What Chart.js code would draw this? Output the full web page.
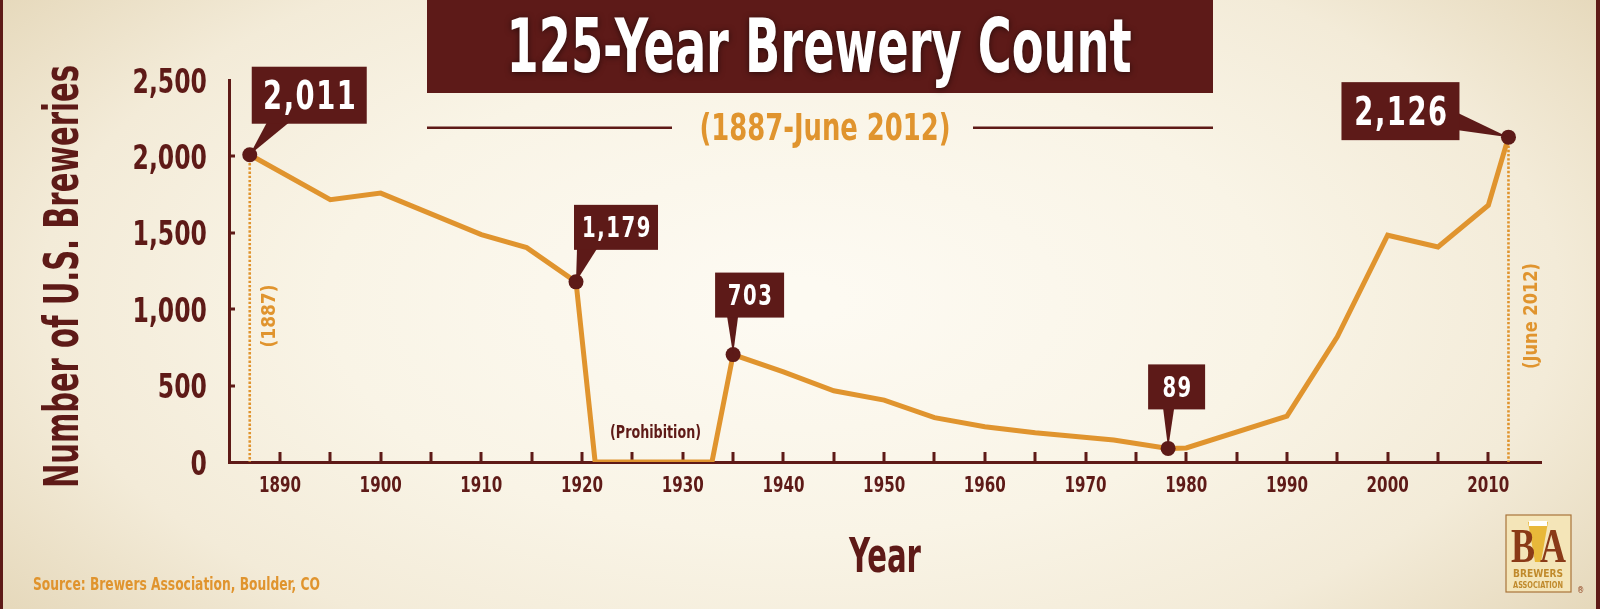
<!DOCTYPE html>
<html>
<head>
<meta charset="utf-8">
<title>125-Year Brewery Count</title>
<script src="https://cdn.jsdelivr.net/npm/chart.js@4.4.1/dist/chart.umd.min.js"></script>
<style>
  html, body { margin: 0; padding: 0; background: #F6EFDD; }
  canvas { display: block; }
</style>
</head>
<body>
<canvas id="chart" width="1600" height="609"></canvas>
<script>
const YEARS  = [1887, 1895, 1900, 1910, 1914.5, 1919.4, 1921.3, 1932.9, 1935, 1940, 1945, 1950, 1955, 1960, 1965, 1972.8, 1978.2, 1980, 1990, 1995, 2000, 2005, 2010, 2012];
const COUNTS = [2011, 1717, 1760, 1488, 1403, 1179, 0, 0, 703, 590, 466, 405, 290, 231, 192, 144, 89, 92, 300, 819, 1484, 1407, 1680, 2126];

// points that get a dark dot + callout
const HIGHLIGHT_IDX = [0, 5, 8, 16, 23];

const X_TICKS = [1890, 1900, 1910, 1920, 1930, 1940, 1950, 1960, 1970, 1980, 1990, 2000, 2010];
const X_MINOR = [1890, 1895, 1900, 1905, 1910, 1915, 1920, 1925, 1930, 1935, 1940, 1945, 1950, 1955, 1960, 1965, 1970, 1975, 1980, 1985, 1990, 1995, 2000, 2005, 2010];
const Y_TICKS = [0, 500, 1000, 1500, 2000, 2500];

const TITLE = "125-Year Brewery Count";
const SUBTITLE = "(1887-June 2012)";
const Y_TITLE = "Number of U.S. Breweries";
const X_TITLE = "Year";
const SOURCE = "Source: Brewers Association, Boulder, CO";

const MAROON = "#5E1A17";
const BOX = "#5D1A18";
const ORANGE = "#E0942E";
const FONT = '"Liberation Sans Narrow", "DejaVu Sans Condensed", "Arial Narrow", sans-serif';
const SQUEEZE = 0.78; // the original face is much narrower than anything installed

// callout box placement, relative to the point (px)
const CALLOUT_STYLE = {
  0:  { dx: 2,    dy: -88, w: 115, h: 57, size: 39, tip: "bottom", t0: 15, t1: 37 },
  5:  { dx: -2,   dy: -77, w: 84,  h: 45, size: 28, tip: "bottom", t0: 3,  t1: 23 },
  8:  { dx: -18,  dy: -82, w: 69,  h: 45, size: 28, tip: "bottom", t0: 12, t1: 23 },
  16: { dx: -20,  dy: -84, w: 57,  h: 45, size: 28, tip: "bottom", t0: 15, t1: 26 },
  23: { dx: -167, dy: -55, w: 118, h: 58, size: 39, tip: "right",  t0: 31, t1: 48 },
};

// draw text squeezed/stretched to a given width
function fitText(ctx, text, x, y, width, align) {
  const w = ctx.measureText(text).width;
  squeezeText(ctx, text, x, y, width / w, align);
}

function squeezeText(ctx, text, x, y, sx, align) {
  ctx.save();
  ctx.translate(x, y);
  ctx.scale(sx, 1);
  ctx.textAlign = align || "center";
  ctx.fillText(text, 0, 0);
  ctx.restore();
}

const decor = {
  id: "decor",
  beforeDraw(chart) {
    const { ctx, width, height } = chart;
    ctx.save();
    // cream paper with darker edges
    ctx.fillStyle = "#EADFC6";
    ctx.fillRect(0, 0, width, height);
    ctx.translate(800, 300);
    ctx.scale(1, 0.5);
    const g = ctx.createRadialGradient(0, 0, 40, 0, 0, 1000);
    g.addColorStop(0, "#FDFAF2");
    g.addColorStop(0.45, "#F9F4E6");
    g.addColorStop(0.75, "#F3EBD8");
    g.addColorStop(1, "#E6D9BC");
    ctx.fillStyle = g;
    ctx.fillRect(-800, -700, 1600, 1400);
    ctx.restore();

    ctx.save();
    // side frame
    ctx.fillStyle = MAROON;
    ctx.fillRect(0, 0, 3, height);
    ctx.fillRect(width - 4, 0, 4, height);

    // title banner
    ctx.fillStyle = BOX;
    ctx.fillRect(427, 0, 786, 93);
    ctx.shadowColor = "rgba(0,0,0,0.55)";
    ctx.shadowBlur = 6;
    ctx.shadowOffsetY = 1;
    ctx.fillStyle = "#FFFFFF";
    ctx.font = "bold 74px " + FONT;
    ctx.textBaseline = "alphabetic";
    fitText(ctx, TITLE, 819, 72, 625);
    ctx.shadowColor = "transparent";

    // subtitle with rules
    ctx.fillStyle = MAROON;
    ctx.fillRect(427, 126.5, 245, 2.5);
    ctx.fillRect(973, 126.5, 240, 2.5);
    ctx.fillStyle = ORANGE;
    ctx.font = "bold 38px " + FONT;
    fitText(ctx, SUBTITLE, 825, 140, 251);

    // y axis title
    ctx.fillStyle = MAROON;
    ctx.font = "bold 48px " + FONT;
    ctx.save();
    ctx.translate(78, 276.5);
    ctx.rotate(-Math.PI / 2);
    fitText(ctx, Y_TITLE, 0, 0, 423);
    ctx.restore();

    // x axis title
    ctx.font = "bold 48px " + FONT;
    fitText(ctx, X_TITLE, 885, 572, 72);

    // source
    ctx.fillStyle = ORANGE;
    ctx.font = "bold 18px " + FONT;
    fitText(ctx, SOURCE, 33, 590, 287, "left");

    drawLogo(ctx);
    ctx.restore();
  },
  beforeDatasetsDraw(chart) {
    const { ctx, scales: { x, y } } = chart;
    ctx.save();
    ctx.fillStyle = MAROON;
    const base = y.getPixelForValue(0);
    for (const v of X_MINOR) {
      const px = x.getPixelForValue(v);
      ctx.fillRect(Math.round(px) - 1.5, base - 10, 3, 10);
    }
    for (const v of Y_TICKS.slice(1, -1)) {
      const py = y.getPixelForValue(v);
      ctx.fillRect(x.left, Math.round(py) - 1.5, 6, 3);
    }

    // tick labels, taken from the scales' own ticks
    ctx.textBaseline = "alphabetic";
    ctx.font = "bold 21px " + FONT;
    for (const t of x.ticks) {
      squeezeText(ctx, t.label, x.getPixelForValue(t.value), base + 30, 0.8);
    }
    ctx.font = "bold 34px " + FONT;
    for (const t of y.ticks) {
      squeezeText(ctx, t.label, x.left - 22, y.getPixelForValue(t.value) + 12.5, 0.77, "right");
    }

    // dotted drop lines at the two ends
    ctx.strokeStyle = ORANGE;
    ctx.lineWidth = 2.6;
    ctx.setLineDash([2.4, 1.8]);
    for (const i of [0, YEARS.length - 1]) {
      const px = x.getPixelForValue(YEARS[i]);
      ctx.beginPath();
      ctx.moveTo(px, y.getPixelForValue(COUNTS[i]));
      ctx.lineTo(px, base);
      ctx.stroke();
    }
    ctx.setLineDash([]);

    // small rotated year notes
    ctx.fillStyle = ORANGE;
    ctx.font = "bold 19px " + FONT;
    ctx.textBaseline = "middle";
    const notes = [
      { i: 0, off: 20, text: "(1887)", w: 63 },
      { i: YEARS.length - 1, off: 24, text: "(June 2012)", w: 106 },
    ];
    for (const n of notes) {
      ctx.save();
      ctx.translate(x.getPixelForValue(YEARS[n.i]) + n.off, 316);
      ctx.rotate(-Math.PI / 2);
      fitText(ctx, n.text, 0, 0, n.w);
      ctx.restore();
    }

    ctx.fillStyle = MAROON;
    ctx.font = "bold 17px " + FONT;
    ctx.textBaseline = "alphabetic";
    fitText(ctx, "(Prohibition)", x.getPixelForValue(1927.3), 438, 91);
    ctx.restore();
  },
  afterDatasetsDraw(chart) {
    const { ctx, scales: { x, y } } = chart;
    ctx.save();
    for (const i of HIGHLIGHT_IDX) {
      const s = CALLOUT_STYLE[i];
      const px = x.getPixelForValue(YEARS[i]);
      const py = y.getPixelForValue(COUNTS[i]);
      const bx = px + s.dx, by = py + s.dy;
      ctx.fillStyle = BOX;
      ctx.beginPath();
      if (s.tip === "bottom") {
        ctx.moveTo(bx + s.t0, by + s.h - 1);
        ctx.lineTo(bx + s.t1, by + s.h - 1);
      } else {
        ctx.moveTo(bx + s.w - 1, by + s.t0);
        ctx.lineTo(bx + s.w - 1, by + s.t1);
      }
      ctx.lineTo(px, py);
      ctx.closePath();
      ctx.fill();
      ctx.fillRect(bx, by, s.w, s.h);

      ctx.fillStyle = "#FFFFFF";
      ctx.font = "bold " + s.size + "px " + FONT;
      ctx.textBaseline = "alphabetic";
      ctx.letterSpacing = "2px";
      squeezeText(ctx, COUNTS[i].toLocaleString("en-US"), bx + s.w / 2 + 1, by + s.h / 2 + s.size * 0.36, SQUEEZE);
      ctx.letterSpacing = "0px";
    }
    ctx.restore();
  },
};

function drawLogo(ctx) {
  ctx.save();
  ctx.fillStyle = "#F4E5B8";
  ctx.fillRect(1506, 515, 65, 77);
  ctx.strokeStyle = "#A8743A";
  ctx.lineWidth = 1.2;
  ctx.strokeRect(1506, 515, 65, 77);
  // glass
  ctx.fillStyle = "#E8B83A";
  ctx.beginPath();
  ctx.moveTo(1528, 522); ctx.lineTo(1548, 522); ctx.lineTo(1541, 562); ctx.lineTo(1535, 562);
  ctx.closePath(); ctx.fill();
  ctx.fillStyle = "#FFFFFF";
  ctx.fillRect(1529, 521, 18, 5);
  ctx.fillStyle = "#8A3A17";
  ctx.font = "bold 48px 'Liberation Serif', serif";
  ctx.textBaseline = "alphabetic";
  fitText(ctx, "B", 1523, 562, 24);
  fitText(ctx, "A", 1553, 562, 26);
  ctx.fillStyle = "#C08A2C";
  ctx.font = "bold 11px " + FONT;
  fitText(ctx, "BREWERS", 1538, 577, 50);
  ctx.font = "bold 9px " + FONT;
  fitText(ctx, "ASSOCIATION", 1538, 588, 50);
  ctx.fillStyle = "#8A3A17";
  ctx.font = "8px " + FONT;
  ctx.fillText("®", 1577, 593);
  ctx.restore();
}

Chart.defaults.font.family = FONT;
Chart.defaults.font.weight = "bold";
Chart.defaults.color = MAROON;

new Chart(document.getElementById("chart"), {
  type: "line",
  data: {
    datasets: [
      {
        label: "Highlights",
        data: HIGHLIGHT_IDX.map((i) => ({ x: YEARS[i], y: COUNTS[i] })),
        showLine: false,
        pointRadius: 7.5,
        pointBackgroundColor: BOX,
        pointBorderWidth: 0,
        order: 0,
      },
      {
        label: "U.S. breweries",
        data: YEARS.map((yr, i) => ({ x: yr, y: COUNTS[i] })),
        borderColor: ORANGE,
        borderWidth: 5,
        pointRadius: 0,
        tension: 0,
        fill: false,
        order: 1,
      },
    ],
  },
  options: {
    responsive: false,
    animation: false,
    devicePixelRatio: 1,
    layout: { padding: { top: 80, right: 59, bottom: 0, left: 0 } },
    plugins: { legend: { display: false }, tooltip: { enabled: false } },
    scales: {
      x: {
        type: "linear",
        min: 1884.94,
        max: 2015.23,
        afterFit: (s) => { s.height = 147; },
        afterBuildTicks: (s) => { s.ticks = X_TICKS.map((v) => ({ value: v })); },
        grid: { display: false, drawTicks: false },
        border: { display: true, color: MAROON, width: 3 },
        ticks: { display: false, callback: (v) => String(v) },
      },
      y: {
        min: 0,
        max: 2500,
        afterFit: (s) => { s.width = 229; },
        afterBuildTicks: (s) => { s.ticks = Y_TICKS.map((v) => ({ value: v })); },
        grid: { display: false, drawTicks: false },
        border: { display: true, color: MAROON, width: 3 },
        ticks: { display: false, callback: (v) => v.toLocaleString("en-US") },
      },
    },
  },
  plugins: [decor],
});
</script>
</body>
</html>
